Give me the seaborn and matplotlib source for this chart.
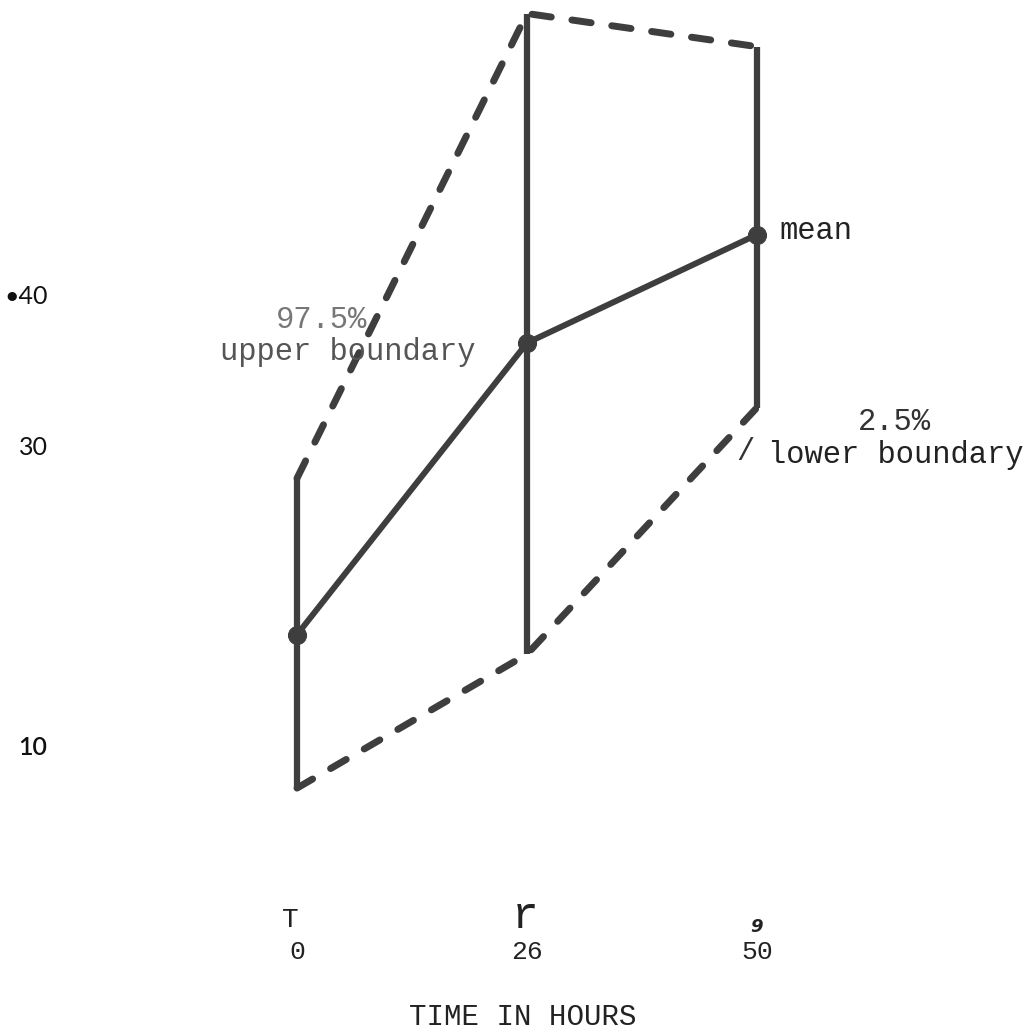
import matplotlib
matplotlib.use("Agg")
import matplotlib.pyplot as plt
import seaborn as sns
import pandas as pd

# ---- data ----
hours = [0, 26, 50]
hour_labels = ["0", "26", "50"]
mean_vals = [17.4, 36.8, 44.0]
upper_vals = [27.8, 58.7, 56.5]
lower_vals = [7.2, 16.1, 32.5]
ytick_vals = [40, 30, 10]
ytick_labels = ["\u202240", "30", "10"]

pos = list(range(len(hours)))
df = pd.DataFrame({"pos": pos, "mean": mean_vals, "upper": upper_vals, "lower": lower_vals})

sns.set_style("white")
plt.rcParams["font.family"] = ["Liberation Mono", "DejaVu Sans"]

W, H = 1035, 1032
fig = plt.figure(figsize=(W / 100, H / 100), dpi=100)
ax = fig.add_axes([60 / W, 1 - 880 / H, 975 / W, 880 / H])

LC = "#3e3e3e"

# vertical range lines
ax.vlines(df["pos"], df["lower"], df["upper"], color=LC, lw=4.5, zorder=3)

# dashed boundaries
sns.lineplot(data=df, x="pos", y="upper", ax=ax, color=LC, lw=5.0,
             linestyle=(0, (2.8, 3.0)), dash_capstyle="round", zorder=3)
sns.lineplot(data=df, x="pos", y="lower", ax=ax, color=LC, lw=5.0,
             linestyle=(0, (2.6, 3.0)), dash_capstyle="round", zorder=3)

# mean line
sns.lineplot(data=df, x="pos", y="mean", ax=ax, color=LC, lw=4.3,
             marker="o", markersize=13, markeredgecolor=LC, zorder=4)

ax.set_xlim(-1.0304, 3.2087)
ax.set_ylim(1.09, 59.60)
for s in ax.spines.values():
    s.set_visible(False)

ax.set_xticks(pos)
ax.set_xticklabels(hour_labels, fontsize=19, color="#222222", family="Liberation Mono")
ax.tick_params(axis="x", length=0, pad=43)

ax.set_yticks(ytick_vals)
ax.set_yticklabels(ytick_labels, fontsize=18, color="#111111", family="Lato")
for lab in ax.get_yticklabels():
    if lab.get_text() == "10":
        lab.set_fontweight("semibold")
ax.tick_params(axis="y", length=0, pad=9)

ax.set_xlabel("TIME IN HOURS", fontsize=21, color="#222222", va="center")
ax.xaxis.set_label_coords((523 - 60) / 975, -(1017 - 880) / 880)
ax.set_ylabel("")


def ftext(x, y, s, **kw):
    fig.text(x / W, 1 - y / H, s, **kw)


mono = dict(family="Liberation Mono", fontsize=22, va="center", zorder=1)
ftext(779, 231, "mean", color="#222222", ha="left", **mono)
ftext(894, 422, "2.5%", color="#333333", ha="center", **mono)
ftext(768, 455, "lower boundary", color="#222222", ha="left", **mono)
ftext(745, 452, "/", color="#333333", ha="center", **mono)
ftext(322, 320, "97.5%", color="#777777", ha="center", **mono)
ftext(220, 352, "upper boundary", color="#555555", ha="left", **mono)

ftext(290, 920, "T", family="Liberation Mono", fontsize=20, color="#222222", ha="center", va="center")
ftext(525, 916, "r", family="Liberation Mono", fontsize=32, color="#222222", ha="center", va="center")
ftext(757, 927, "9", family="DejaVu Sans", fontsize=13, fontstyle="italic", fontweight="bold",
      color="#222222", ha="center", va="center")

fig.savefig("out.png", dpi=100, facecolor="white")
